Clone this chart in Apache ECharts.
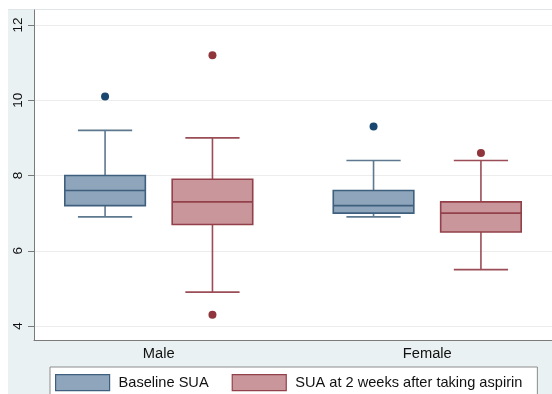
<!DOCTYPE html>
<html>
<head>
<meta charset="utf-8">
<script src="https://cdn.jsdelivr.net/npm/echarts@6/dist/echarts.min.js"></script>
<style>
  html, body { margin: 0; padding: 0; background: #ffffff; overflow: hidden; }
  #chart { position: absolute; left: 0; top: 0; width: 552px; height: 394px; }
</style>
</head>
<body>
<div id="chart"></div>
<script>
// ---- data ----
const categories = ['Male', 'Female'];
const seriesNames = ['Baseline SUA', 'SUA at 2 weeks after taking aspirin'];
// [min whisker, Q1, median, Q3, max whisker]
const baselineBoxes = [[6.9, 7.2, 7.6, 8.0, 9.2], [6.9, 7.0, 7.2, 7.6, 8.4]];
const afterBoxes = [[4.9, 6.7, 7.3, 7.9, 9.0], [5.5, 6.5, 7.0, 7.3, 8.4]];
// [category index, value]
const baselineOutliers = [[0, 10.1], [1, 9.3]];
const afterOutliers = [[0, 11.2], [0, 4.3], [1, 8.6]];
const yTicks = [4, 6, 8, 10, 12];

// ---- style ----
const FONT = 'Liberation Sans, Arial, sans-serif';
const styles = [
  { fill: '#8ea5bb', stroke: '#3f5f7e', whisker: '#5d788f', dot: '#1a476f' },
  { fill: '#c8969b', stroke: '#93404a', whisker: '#9a4d56', dot: '#90353b' }
];
const OFFSETS = [-0.2, 0.2];     // group offset in category units
const BOX_HALF = 0.15;
const CAP_HALF = 0.101;

function boxRenderer(si) {
  const st = styles[si];
  const off = OFFSETS[si];
  return function (params, api) {
    const x = api.value(0) + off;
    const lo = api.value(1), q1 = api.value(2), med = api.value(3), q3 = api.value(4), hi = api.value(5);
    const P = (dx, v) => api.coord([x + dx, v]);
    const lw = 1.6;
    const lineStyle = { stroke: st.whisker, lineWidth: lw, fill: null };
    const tl = P(-BOX_HALF, q3), br = P(BOX_HALF, q1);
    const children = [
      { type: 'line', shape: { x1: P(0, q3)[0], y1: P(0, q3)[1], x2: P(0, hi)[0], y2: P(0, hi)[1] }, style: lineStyle },
      { type: 'line', shape: { x1: P(0, q1)[0], y1: P(0, q1)[1], x2: P(0, lo)[0], y2: P(0, lo)[1] }, style: lineStyle },
      { type: 'line', shape: { x1: P(-CAP_HALF, hi)[0], y1: P(-CAP_HALF, hi)[1], x2: P(CAP_HALF, hi)[0], y2: P(CAP_HALF, hi)[1] }, style: lineStyle },
      { type: 'line', shape: { x1: P(-CAP_HALF, lo)[0], y1: P(-CAP_HALF, lo)[1], x2: P(CAP_HALF, lo)[0], y2: P(CAP_HALF, lo)[1] }, style: lineStyle },
      { type: 'rect', shape: { x: tl[0], y: tl[1], width: br[0] - tl[0], height: br[1] - tl[1] },
        style: { fill: st.fill, stroke: st.stroke, lineWidth: 1.6 } },
      { type: 'line', shape: { x1: P(-BOX_HALF, med)[0], y1: P(-BOX_HALF, med)[1], x2: P(BOX_HALF, med)[0], y2: P(BOX_HALF, med)[1] },
        style: { stroke: st.stroke, lineWidth: 1.6 } }
    ];
    return { type: 'group', children: children };
  };
}

function outlierRenderer(si) {
  const st = styles[si];
  const off = OFFSETS[si];
  return function (params, api) {
    const p = api.coord([api.value(0) + off, api.value(1)]);
    return { type: 'circle', shape: { cx: p[0], cy: p[1], r: 4 }, style: { fill: st.dot } };
  };
}

const chart = echarts.init(document.getElementById('chart'), null, { renderer: 'canvas' });

const option = {
  animation: false,
  backgroundColor: '#e9f1f3',
  textStyle: { fontFamily: FONT },
  graphic: [
    { type: 'rect', z: -10, silent: true, shape: { x: 0, y: 0, width: 552, height: 9 }, style: { fill: '#ffffff' } },
    { type: 'rect', z: -10, silent: true, shape: { x: 0, y: 0, width: 8, height: 394 }, style: { fill: '#ffffff' } },
    { type: 'rect', z: -9, silent: true, shape: { x: 8, y: 9, width: 544, height: 1 }, style: { fill: '#dfe5e6' } }
  ],
  grid: { left: 34, right: 0, top: 10, bottom: 54, show: true, backgroundColor: '#ffffff', borderWidth: 0 },
  xAxis: {
    type: 'value',
    min: -0.4647,
    max: 1.4647,
    axisLine: { show: true, onZero: false, lineStyle: { color: '#7a7a7a', width: 1 } },
    axisTick: { show: false },
    splitLine: { show: false },
    axisLabel: {
      customValues: [0, 1],
      formatter: function (v) { return categories[Math.round(v)]; },
      color: '#111111', fontSize: 14.7, fontFamily: FONT, margin: 6
    }
  },
  yAxis: {
    type: 'value',
    min: 3.628,
    max: 12.4,
    axisLine: { show: true, onZero: false, lineStyle: { color: '#7a7a7a', width: 1 } },
    axisTick: { show: true, customValues: yTicks, length: 6, lineStyle: { color: '#7a7a7a' } },
    splitLine: { show: true, lineStyle: { color: '#ececec', width: 1 } },
    axisLabel: {
      customValues: yTicks,
      rotate: 90,
      color: '#111111', fontSize: 13.5, fontFamily: FONT, margin: 9
    }
  },
  legend: {
    data: [
      { name: seriesNames[0], itemStyle: { color: styles[0].fill, borderColor: styles[0].stroke, borderWidth: 1.2 } },
      { name: seriesNames[1], itemStyle: { color: styles[1].fill, borderColor: styles[1].stroke, borderWidth: 1.2 } }
    ],
    left: 50,
    top: 367,
    icon: 'rect',
    itemWidth: 54,
    itemHeight: 16,
    itemGap: 23,
    padding: [7, 15, 12, 5],
    backgroundColor: '#ffffff',
    borderColor: '#8c8c8c',
    borderWidth: 1,
    borderRadius: 0,
    textStyle: { color: '#111111', fontSize: 14.6, fontFamily: FONT, padding: [0, 0, 0, 4] },
    selectedMode: false
  },
  series: [
    {
      name: seriesNames[0], type: 'custom', renderItem: boxRenderer(0),
      itemStyle: { color: styles[0].fill },
      encode: { x: 0, y: [1, 2, 3, 4, 5] },
      data: baselineBoxes.map((b, i) => [i].concat(b)), z: 3
    },
    {
      name: seriesNames[1], type: 'custom', renderItem: boxRenderer(1),
      itemStyle: { color: styles[1].fill },
      encode: { x: 0, y: [1, 2, 3, 4, 5] },
      data: afterBoxes.map((b, i) => [i].concat(b)), z: 3
    },
    {
      name: 'baseline outliers', type: 'custom', renderItem: outlierRenderer(0),
      encode: { x: 0, y: 1 }, data: baselineOutliers, z: 4
    },
    {
      name: 'after outliers', type: 'custom', renderItem: outlierRenderer(1),
      encode: { x: 0, y: 1 }, data: afterOutliers, z: 4
    }
  ]
};
chart.setOption(option);
</script>
</body>
</html>
